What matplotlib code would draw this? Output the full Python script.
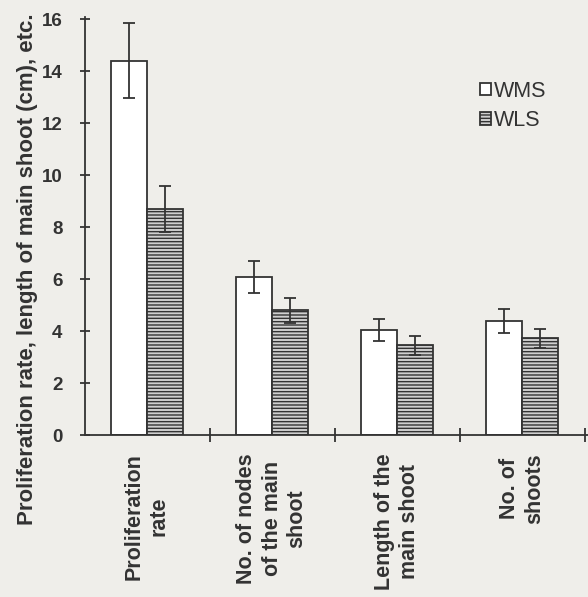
import numpy as np
import matplotlib
matplotlib.use("Agg")
import matplotlib.pyplot as plt
from matplotlib.patches import Patch

plt.rcParams['font.family'] = ['Liberation Sans', 'DejaVu Sans']
plt.rcParams['hatch.linewidth'] = 1.0
plt.rcParams['hatch.color'] = '#3a3a3a'

categories = ['Proliferation\nrate', 'No. of nodes\nof the main\nshoot',
              'Length of the\nmain shoot', 'No. of\nshoots']
wms = [14.4, 6.08, 4.04, 4.4]
wms_err = [1.45, 0.6, 0.43, 0.46]
wls = [8.7, 4.8, 3.45, 3.72]
wls_err = [0.88, 0.48, 0.37, 0.37]

ink = '#333333'
bg = '#efeeea'

fig = plt.figure(figsize=(5.88, 5.97), dpi=100, facecolor=bg)
ax = fig.add_axes([84.5 / 588, 162 / 597, 503.5 / 588, 418 / 597])
ax.set_facecolor('none')

centers = np.arange(len(categories)) + 0.5
width = 0.29

err_style = dict(ecolor=ink, elinewidth=1.3, capthick=1.3)
ax.bar(centers - width / 2, wms, width, yerr=wms_err, color='white',
       edgecolor=ink, linewidth=1.3, capsize=4.5, error_kw=err_style)
ax.bar(centers + width / 2, wls, width, yerr=wls_err, color='#cfcfcf',
       edgecolor=ink, linewidth=1.3, hatch='-----', capsize=4.5,
       error_kw=err_style)

ax.set_xlim(0, 503.5 / 125)
ax.set_ylim(0, 16.08)
ax.set_yticks(range(0, 17, 2))
ax.set_xticks([1, 2, 3, 4])
ax.set_xticklabels([])
ax.set_xticks(centers, categories, minor=True, rotation=90,
              fontweight='bold', fontsize=15.5, color=ink, linespacing=1.25)
ax.tick_params(axis='x', which='minor', length=0, pad=13)
ax.tick_params(axis='x', which='major', direction='inout', length=10,
               width=1.3, color=ink)
ax.tick_params(axis='y', direction='inout', length=6.5, width=1.3, color=ink,
               labelsize=13.5, labelcolor=ink, pad=12.5)
for lab in ax.get_yticklabels():
    lab.set_fontweight('bold')

for s in ['top', 'right']:
    ax.spines[s].set_visible(False)
for s in ['left', 'bottom']:
    ax.spines[s].set_color(ink)
    ax.spines[s].set_linewidth(1.3)

ax.set_ylabel('Proliferation rate, length of main shoot (cm), etc.',
              fontsize=16, fontweight='bold', color=ink)
ax.yaxis.set_label_coords(-0.092, 0.397)

handles = [Patch(facecolor='white', edgecolor=ink, linewidth=1.3),
           Patch(facecolor='#cfcfcf', edgecolor=ink, linewidth=1.3, hatch='-----')]
ax.legend(handles, ['WMS', 'WLS'], loc='upper left',
          bbox_to_anchor=(0.786, 0.848), frameon=False, fontsize=15.5,
          borderpad=0, borderaxespad=0,
          handlelength=0.5, handleheight=0.5, handletextpad=0.12,
          labelspacing=0.4, labelcolor=ink)

fig.savefig('out.png', dpi=100, facecolor=bg)
